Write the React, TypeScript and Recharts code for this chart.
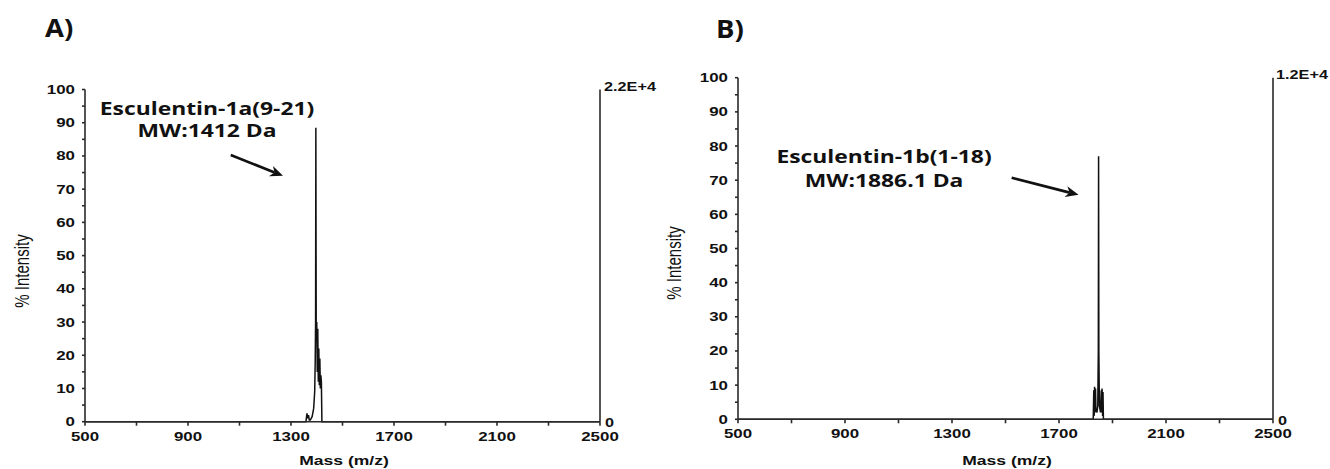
import React from 'react';
import { LineChart, Line, XAxis, YAxis, ReferenceDot, ReferenceLine } from 'recharts';

// Axis ticks (minor marks every other step, labels on the major ones)
const MASS_TICKS = [500, 700, 900, 1100, 1300, 1500, 1700, 1900, 2100, 2300, 2500];
const MASS_LABELS = [500, 900, 1300, 1700, 2100, 2500];
const INTENSITY_TICKS = [0, 5, 10, 15, 20, 25, 30, 35, 40, 45, 50, 55, 60, 65, 70, 75, 80, 85, 90, 95, 100];
const INTENSITY_LABELS = [0, 10, 20, 30, 40, 50, 60, 70, 80, 90, 100];

// Spectrum A: Esculentin-1a(9-21)
const massA = [500, 1358, 1362, 1365, 1368, 1371, 1375, 1382, 1388, 1392, 1394, 1395.5, 1396.5, 1398, 1400, 1402, 1404, 1406, 1408, 1410, 1412, 1414, 1416, 1418, 1420, 2500];
const intensityA = [0, 0, 2.5, 1, 2, 0.5, 0.5, 1.5, 4, 9, 18, 30, 88.5, 24, 30, 15, 28, 12, 22, 11, 19, 10, 14, 12, 0, 0];

// Spectrum B: Esculentin-1b(1-18)
const massB = [500, 1828, 1830, 1831.5, 1833, 1835, 1836.5, 1838, 1842, 1845, 1847, 1848, 1849, 1851, 1855, 1858, 1859.5, 1861, 1863, 1864.5, 1866, 2500];
const intensityB = [0, 0, 8.5, 1, 9.5, 2, 9, 3, 2, 4, 20, 77, 20, 4, 2, 8.5, 2, 9, 1, 8, 0, 0];

const peptideA = ['Esculentin-1a(9-21)', 'MW:1412 Da'];
const peptideB = ['Esculentin-1b(1-18)', 'MW:1886.1 Da'];
const fullScaleA = '2.2E+4';
const fullScaleB = '1.2E+4';

const SX = 1.3; // horizontal stretch of the figure's lettering
const TICK_FONT = '"Liberation Sans", Arial, sans-serif';
const NOTE_FONT = '"Open Sans", sans-serif';
const INK = '#111';
const AXIS = '#2a2a2a';

type STextProps = {
  x: number; y: number; anchor?: 'start' | 'middle' | 'end';
  size: number; weight?: number | string; family?: string; sx?: number; children: React.ReactNode;
};
const SText = ({ x, y, anchor = 'middle', size, weight = 700, family = TICK_FONT, sx = SX, children }: STextProps) => (
  <text
    transform={`translate(${x},${y}) scale(${sx},1)`}
    textAnchor={anchor}
    fontSize={size}
    fontWeight={weight}
    fontFamily={family}
    fill={INK}
  >
    {children}
  </text>
);

const XTick = (props: any) => {
  const { x, y, payload } = props;
  if (!MASS_LABELS.includes(payload.value)) return <g />;
  return <SText x={x} y={y + 11} size={13}>{payload.value}</SText>;
};

const YTick = (props: any) => {
  const { x, y, payload } = props;
  if (!INTENSITY_LABELS.includes(payload.value)) return <g />;
  return <SText x={x} y={y + 4.5} anchor="end" size={13}>{payload.value}</SText>;
};

const Arrow = (props: any) => {
  const { x1, y1, x2, y2 } = props;
  const ang = Math.atan2(y2 - y1, x2 - x1);
  const len = 13;
  const half = 5.5;
  const bx = x2 - len * Math.cos(ang);
  const by = y2 - len * Math.sin(ang);
  const nx = -Math.sin(ang);
  const ny = Math.cos(ang);
  const notchX = x2 - len * 0.7 * Math.cos(ang);
  const notchY = y2 - len * 0.7 * Math.sin(ang);
  return (
    <g>
      <line x1={x1} y1={y1} x2={notchX} y2={notchY} stroke={INK} strokeWidth={2.6} />
      <polygon
        points={`${x2},${y2} ${bx + nx * half},${by + ny * half} ${notchX},${notchY} ${bx - nx * half},${by - ny * half}`}
        fill={INK}
      />
    </g>
  );
};

const makeNote = (lines: string[], gap: number) => (props: any) => {
  const { cx, cy } = props;
  return (
    <g>
      <SText x={cx} y={cy + 6.5} size={18} family={NOTE_FONT} sx={1.27}>{lines[0]}</SText>
      <SText x={cx} y={cy + 6.5 + gap} size={18} family={NOTE_FONT} sx={1.27}>{lines[1]}</SText>
    </g>
  );
};

type PanelProps = {
  left: number; width: number;
  margin: { top: number; right: number; bottom: number; left: number };
  mass: number[]; intensity: number[];
  note: string[]; noteAt: { x: number; y: number }; noteGap: number;
  arrowFrom: { x: number; y: number }; arrowTo: { x: number; y: number };
};

const Panel = ({ left, width, margin, mass, intensity, note, noteAt, noteGap, arrowFrom, arrowTo }: PanelProps) => {
  const data = mass.map((m, i) => ({ mass: m, intensity: intensity[i] }));
  return (
    <div style={{ position: 'absolute', left, top: 0 }}>
      <LineChart width={width} height={469} data={data} margin={margin}>
        <XAxis
          dataKey="mass"
          type="number"
          domain={[500, 2500]}
          ticks={MASS_TICKS}
          interval={0}
          tick={XTick}
          tickSize={4}
          tickMargin={4}
          height={30}
          stroke={AXIS}
          strokeWidth={1.6}
          allowDataOverflow
        />
        <YAxis
          yAxisId="left"
          type="number"
          domain={[0, 100]}
          ticks={INTENSITY_TICKS}
          interval={0}
          tick={YTick}
          tickSize={3}
          tickMargin={7}
          width={45}
          stroke={AXIS}
          strokeWidth={1.6}
        />
        <YAxis
          yAxisId="right"
          orientation="right"
          type="number"
          domain={[0, 100]}
          tick={false}
          tickLine={false}
          width={55}
          stroke={AXIS}
          strokeWidth={1.6}
        />
        <Line
          yAxisId="left"
          dataKey="intensity"
          type="linear"
          stroke={INK}
          strokeWidth={1.5}
          dot={false}
          activeDot={false}
          isAnimationActive={false}
        />
        <ReferenceLine
          yAxisId="left"
          segment={[arrowFrom, arrowTo]}
          shape={Arrow}
          ifOverflow="visible"
        />
        <ReferenceDot
          yAxisId="left"
          x={noteAt.x}
          y={noteAt.y}
          r={0}
          shape={makeNote(note, noteGap)}
          ifOverflow="visible"
        />
      </LineChart>
    </div>
  );
};

const AxisTitleY = ({ x, y }: { x: number; y: number }) => (
  <text
    transform={`translate(${x},${y}) rotate(-90) scale(1,1.3)`}
    textAnchor="middle"
    fontSize={15}
    fontFamily={TICK_FONT}
    fill={INK}
  >
    % Intensity
  </text>
);

export default function App() {
  return (
    <div style={{ position: 'absolute', left: 0, top: 0, width: 1330, height: 469, background: '#fff' }}>
      <Panel
        left={0}
        width={660}
        margin={{ top: 89.5, right: 5, bottom: 17.3, left: 40 }}
        mass={massA}
        intensity={intensityA}
        note={peptideA}
        noteAt={{ x: 974, y: 94.2 }}
        noteGap={22}
        arrowFrom={{ x: 1066, y: 80.3 }}
        arrowTo={{ x: 1269, y: 74 }}
      />
      <Panel
        left={660}
        width={670}
        margin={{ top: 77.7, right: 2, bottom: 19.7, left: 33 }}
        mass={massB}
        intensity={intensityB}
        note={peptideB}
        noteAt={{ x: 1046, y: 76.9 }}
        noteGap={24}
        arrowFrom={{ x: 1523, y: 70.7 }}
        arrowTo={{ x: 1773, y: 65.7 }}
      />
      <svg width={1330} height={469} style={{ position: 'absolute', left: 0, top: 0, pointerEvents: 'none' }}>
        <SText x={45} y={37} anchor="start" size={25} family={NOTE_FONT} sx={1.1}>A)</SText>
        <SText x={716} y={38} anchor="start" size={25} family={NOTE_FONT} sx={1.1}>B)</SText>
        {/* full-scale counts on the right-hand axes */}
        <SText x={604} y={91} anchor="start" size={12.5}>{fullScaleA}</SText>
        <SText x={605} y={427} anchor="start" size={12.5}>0</SText>
        <SText x={1276} y={79} anchor="start" size={12.5}>{fullScaleB}</SText>
        <SText x={1278} y={425} anchor="start" size={12.5}>0</SText>
        <SText x={344} y={465} size={13.5}>Mass (m/z)</SText>
        <SText x={1007} y={465} size={13.5}>Mass (m/z)</SText>
        <AxisTitleY x={29} y={271} />
        <AxisTitleY x={681} y={263} />
      </svg>
    </div>
  );
}
